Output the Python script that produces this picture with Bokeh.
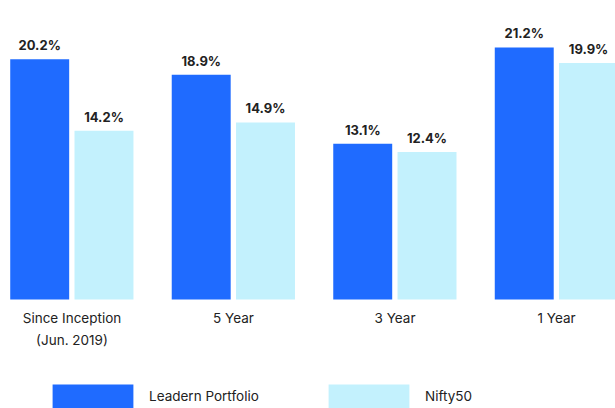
from bokeh.plotting import figure
from bokeh.models import ColumnDataSource, Legend, LegendItem, Range1d
from bokeh.transform import dodge
from bokeh.core.properties import value
from bokeh.embed import file_html
from bokeh.resources import INLINE

categories = ["Since Inception\n(Jun. 2019)", "5 Year", "3 Year", "1 Year"]
leadern = [20.2, 18.9, 13.1, 21.2]
nifty = [14.2, 14.9, 12.4, 19.9]
series_names = ["Leadern Portfolio", "Nifty50"]

DARK = "#1f6bff"
LIGHT = "#c3f1fd"
FONT = "Inter"

xs = list(range(len(categories)))
src = ColumnDataSource(dict(
    x=xs, cat=categories, a=leadern, b=nifty,
    a_lbl=[f"{v:.1f}%" for v in leadern],
    b_lbl=[f"{v:.1f}%" for v in nifty],
    zero=[0] * len(xs),
))

p = figure(width=615, height=408, output_backend="svg", toolbar_location=None,
           x_range=Range1d(-0.4427, 3.365), y_range=Range1d(-9.16, 25.15),
           min_border=0, min_border_left=0, min_border_right=0,
           min_border_top=0, min_border_bottom=0)
p.xaxis.visible = False
p.yaxis.visible = False
p.grid.visible = False
p.outline_line_color = None
p.background_fill_color = "white"
p.border_fill_color = "white"

ra = p.vbar(x=dodge("x", -0.2), top="a", bottom=0, width=0.365, source=src,
            fill_color=DARK, line_color=None)
rb = p.vbar(x=dodge("x", 0.198), top="b", bottom=0, width=0.365, source=src,
            fill_color=LIGHT, line_color=None)

for col, lbl, off in (("a", "a_lbl", -0.2), ("b", "b_lbl", 0.198)):
    p.text(x=dodge("x", off), y=col, text=lbl, source=src,
           text_align="center", text_baseline="bottom", y_offset=-6,
           text_font=value(FONT), text_font_style="bold",
           text_font_size="13px", text_color="#222222")

p.text(x="x", y="zero", text="cat", source=src, text_align="center",
       text_baseline="top", y_offset=10, text_font=value(FONT),
       text_font_size="13.5px", text_color="#222222", text_line_height=1.4)

for r, name, xloc in ((ra, series_names[0], 42), (rb, series_names[1], 318)):
    lg = Legend(items=[LegendItem(label=name, renderers=[r])],
                location=(xloc, -3), orientation="horizontal",
                glyph_width=101, glyph_height=30, label_height=30,
                label_standoff=6, padding=0, margin=0, spacing=0,
                border_line_color=None, background_fill_alpha=0,
                label_text_font=FONT, label_text_font_size="13.5px",
                label_text_color="#222222")
    p.add_layout(lg, "center")

open("out.html", "w").write(file_html(p, INLINE))
